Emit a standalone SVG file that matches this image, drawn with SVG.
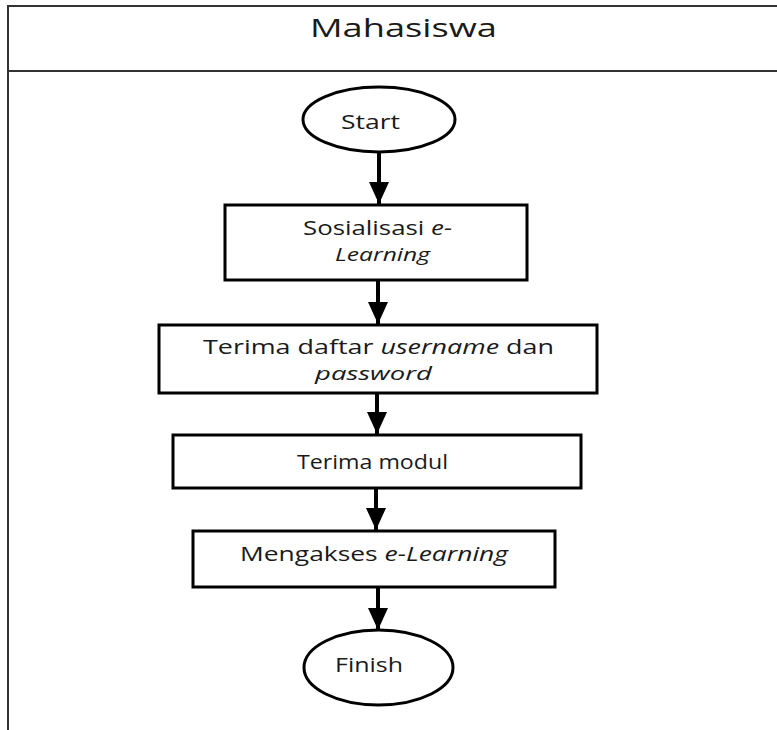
<svg xmlns="http://www.w3.org/2000/svg" width="777" height="730" viewBox="0 0 777 730">
<style>
.frame{fill:none;stroke:#333;stroke-width:2}
.box{fill:#fff;stroke:#000;stroke-width:3}
.t{font-family:"Open Sans","Liberation Sans",sans-serif;font-size:20px;fill:#1a1a1a}
.i{font-style:italic}
.c{stroke:#000;stroke-width:4;fill:none}
</style>
<defs>
<marker id="ah" markerWidth="6" markerHeight="6" refX="5.5" refY="2.5" orient="auto" markerUnits="strokeWidth">
<path d="M0,0 L5.5,2.5 L0,5 Z" fill="#000"/>
</marker>
</defs>
<g id="frame">
<path class="frame" d="M8,730 V6 H777 M8,71 H777"/>
<text x="310" y="37" class="t" style="font-size:26px" textLength="187" lengthAdjust="spacingAndGlyphs">Mahasiswa</text>
</g>
<g id="start">
<ellipse class="box" cx="379" cy="119.5" rx="76" ry="32.5"/>
<text x="341" y="129" class="t" textLength="59" lengthAdjust="spacingAndGlyphs">Start</text>
</g>
<g id="sosialisasi">
<rect class="box" x="225" y="205" width="302" height="75"/>
<text x="303" y="235" class="t" textLength="149" lengthAdjust="spacingAndGlyphs">Sosialisasi <tspan class="i">e-</tspan></text>
<text x="335" y="261" class="t i" style="font-size:19px" textLength="95" lengthAdjust="spacingAndGlyphs">Learning</text>
</g>
<g id="terima-daftar">
<rect class="box" x="159" y="325" width="438" height="68"/>
<text x="203" y="354" class="t" textLength="351" lengthAdjust="spacingAndGlyphs">Terima daftar <tspan class="i">username</tspan> dan</text>
<text x="315" y="380" class="t i" style="font-size:19px" textLength="117" lengthAdjust="spacingAndGlyphs">password</text>
</g>
<g id="terima-modul">
<rect class="box" x="173" y="435" width="408" height="53"/>
<text x="297" y="469" class="t" textLength="151" lengthAdjust="spacingAndGlyphs">Terima modul</text>
</g>
<g id="mengakses">
<rect class="box" x="193" y="531" width="362" height="56"/>
<text x="240" y="561" class="t" textLength="268" lengthAdjust="spacingAndGlyphs">Mengakses <tspan class="i">e-Learning</tspan></text>
</g>
<g id="finish">
<ellipse class="box" cx="378.5" cy="667.5" rx="74.5" ry="37.5"/>
<text x="335" y="672" class="t" textLength="68" lengthAdjust="spacingAndGlyphs">Finish</text>
</g>
<g id="connectors">
<line class="c" x1="379" y1="152" x2="379" y2="204" marker-end="url(#ah)"/>
<line class="c" x1="378" y1="281" x2="378" y2="324" marker-end="url(#ah)"/>
<line class="c" x1="377" y1="394" x2="377" y2="434" marker-end="url(#ah)"/>
<line class="c" x1="376" y1="489" x2="376" y2="530" marker-end="url(#ah)"/>
<line class="c" x1="378" y1="588" x2="378" y2="630" marker-end="url(#ah)"/>
</g>
</svg>
